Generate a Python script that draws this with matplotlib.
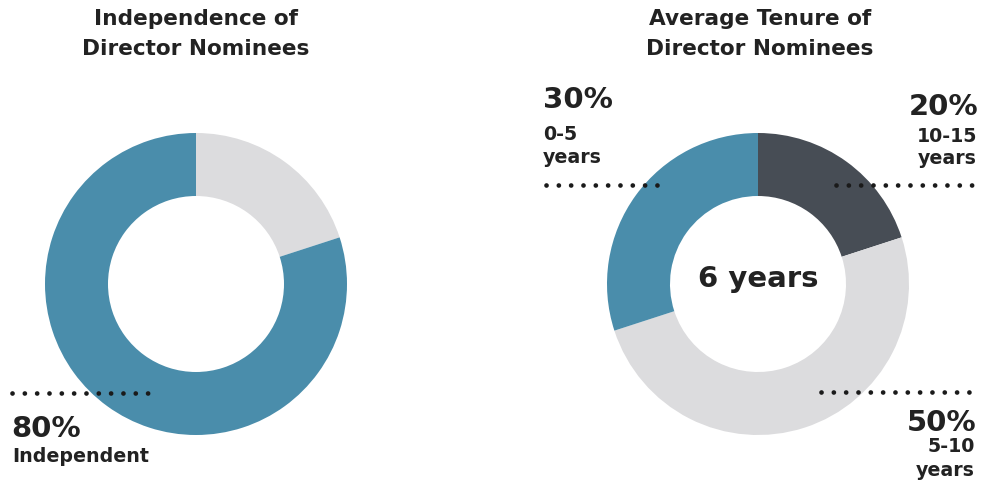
import numpy as np
import matplotlib.pyplot as plt

plt.rcParams['font.family'] = ['DejaVu Sans']

W, H = 985, 492

# left donut: independence
indep_labels = ['Not independent', 'Independent']
indep_values = [20, 80]
indep_colors = ['#dcdcde', '#4a8dab']

# right donut: tenure (clockwise from top)
tenure_labels = ['10-15', '5-10', '0-5']
tenure_values = [20, 50, 30]
tenure_colors = ['#474d55', '#dcdcde', '#4a8dab']
avg_tenure = '6 years'

TXT = '#222222'
R_OUT, RING = 151, 63
PCT_FS, LAB_FS, TITLE_FS = 21, 13.7, 15.6


def Y(y):
    # image pixel row -> axes y
    return H - y


fig = plt.figure(figsize=(W / 100, H / 100), dpi=100)
ax = fig.add_axes([0, 0, 1, 1])

ax.pie(indep_values, colors=indep_colors, startangle=90, counterclock=False,
       center=(196, Y(284)), radius=R_OUT, frame=True,
       wedgeprops=dict(width=RING, linewidth=0))
ax.pie(tenure_values, colors=tenure_colors, startangle=90, counterclock=False,
       center=(758, Y(284)), radius=R_OUT, frame=True,
       wedgeprops=dict(width=RING, linewidth=0))

ax.set_xlim(0, W)
ax.set_ylim(0, H)
ax.set_aspect('equal')
ax.axis('off')


def txt(x, y, s, fs, ha='left'):
    ax.text(x, Y(y), s, ha=ha, va='baseline', fontsize=fs,
            fontweight='bold', color=TXT)


# titles
txt(196, 25, 'Independence of', TITLE_FS, 'center')
txt(196, 55, 'Director Nominees', TITLE_FS, 'center')
txt(760, 25, 'Average Tenure of', TITLE_FS, 'center')
txt(760, 55, 'Director Nominees', TITLE_FS, 'center')

# center label
ax.text(758, Y(279), avg_tenure, ha='center', va='center',
        fontsize=21, fontweight='bold', color=TXT)


def dotted(x0, x1, y):
    ax.plot([x0, x1], [Y(y), Y(y)], color='#1a1a1a', lw=3.4,
            linestyle=(0, (0.01, 2.6)), dash_capstyle='round', zorder=5)


dotted(12, 148, 393)
dotted(546, 658, 185)
dotted(836, 977, 185)
dotted(821, 977, 392)

# annotations
txt(11, 437, f'{indep_values[1]}%', PCT_FS)
txt(12, 462, indep_labels[1], LAB_FS)

txt(543, 108, f'{tenure_values[2]}%', PCT_FS)
txt(543, 140, tenure_labels[2], LAB_FS)
txt(543, 163, 'years', LAB_FS)

txt(978, 115, f'{tenure_values[0]}%', PCT_FS, 'right')
txt(977, 142, tenure_labels[0], LAB_FS, 'right')
txt(977, 164, 'years', LAB_FS, 'right')

txt(976, 431, f'{tenure_values[1]}%', PCT_FS, 'right')
txt(975, 452, tenure_labels[1], LAB_FS, 'right')
txt(975, 476, 'years', LAB_FS, 'right')

fig.savefig('out.png', dpi=100, facecolor='white')
